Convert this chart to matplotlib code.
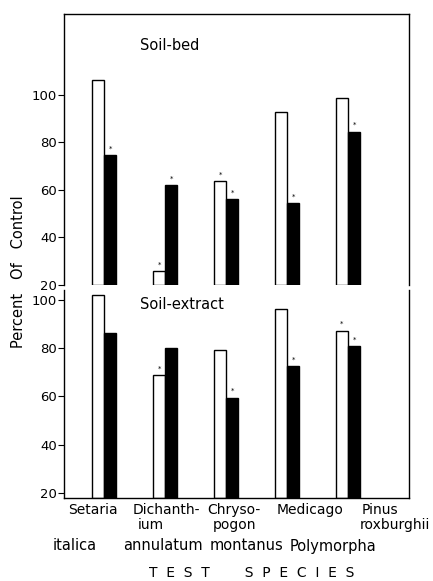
import numpy as np
import matplotlib.pyplot as plt

plt.rcParams['font.family'] = ['DejaVu Sans']

# values (percent of control)
line1 = ["Setaria", "Dichanth-", "Chryso-", "Medicago", "Pinus"]
line2 = ["", "ium", "pogon", "", "roxburghii"]
line3 = ["italica", "annulatum", "montanus", "Polymorpha", ""]

bed_white = [106.3, 25.9, 63.8, 92.8, 98.7]
bed_black = [74.6, 62.0, 56.2, 54.5, 84.6]
ext_white = [102.0, 68.8, 79.2, 96.4, 87.3]
ext_black = [86.4, 80.0, 59.5, 72.6, 80.8]

# significance marks over bars
bed_white_sig = [0, 1, 1, 0, 0]
bed_black_sig = [1, 1, 1, 1, 1]
ext_white_sig = [0, 1, 0, 0, 1]
ext_black_sig = [0, 0, 1, 1, 1]

W, H = 433, 581
fig = plt.figure(figsize=(W / 100, H / 100), dpi=100)


def box(l, t, r, b):
    return [l / W, 1 - b / H, (r - l) / W, (b - t) / H]


ax1 = fig.add_axes(box(64, 14, 409, 285))
ax2 = fig.add_axes(box(64, 290, 409, 498))

x = np.arange(len(line1))
w = 0.2


def draw(ax, white, black, wsig, bsig, base, title, title_y):
    ax.bar(x - w / 2, np.array(white) - base, w, bottom=base, color='white',
           edgecolor='black', linewidth=1.0)
    ax.bar(x + w / 2, np.array(black) - base, w, bottom=base, color='black',
           edgecolor='black', linewidth=1.0)
    for i in range(len(x)):
        if wsig[i]:
            ax.text(x[i] - w / 2, white[i] + 1.5, '*', ha='center', va='bottom', fontsize=5)
        if bsig[i]:
            ax.text(x[i] + w / 2, black[i] + 1.5, '*', ha='center', va='bottom', fontsize=5)
    ax.set_xlim(-0.66, 5.0)
    ax.set_xticks([])
    ax.set_yticks([20, 40, 60, 80, 100])
    ax.tick_params(axis='y', direction='out', length=4, width=0.8, pad=1, labelsize=9.5)
    ax.text(0.22, title_y, title, transform=ax.transAxes, fontsize=10.5, va='center')
    for s in ax.spines.values():
        s.set_linewidth(1.0)


draw(ax1, bed_white, bed_black, bed_white_sig, bed_black_sig, 20, 'Soil-bed', 0.885)
ax1.set_ylim(20, 134.1)
ax1.spines['bottom'].set_visible(False)

draw(ax2, ext_white, ext_black, ext_white_sig, ext_black_sig, 17.9, 'Soil-extract', 0.93)
ax2.set_ylim(17.9, 104.1)
ax2.spines['top'].set_visible(False)

fig.text(19 / W, 1 - 272 / H, 'Percent   Of   Control', rotation=90,
         ha='center', va='center', fontsize=10.5)

# species labels
x1 = [68, 133, 207, 277, 362]
x2 = [0, 138, 213, 0, 360]
x3 = [53, 123, 210, 290, 0]
for i in range(len(line1)):
    fig.text(x1[i] / W, 1 - 510 / H, line1[i], ha='left', va='center', fontsize=10)
for i in range(len(line2)):
    if line2[i]:
        fig.text(x2[i] / W, 1 - 525 / H, line2[i], ha='left', va='center', fontsize=10)
for i in range(len(line3)):
    if line3[i]:
        fig.text(x3[i] / W, 1 - 546 / H, line3[i], ha='left', va='center', fontsize=10.5)

fig.text(252 / W, 1 - 573 / H, 'T  E  S  T        S  P  E  C  I  E  S',
         ha='center', va='center', fontsize=10)

fig.savefig('out.png', dpi=100)
